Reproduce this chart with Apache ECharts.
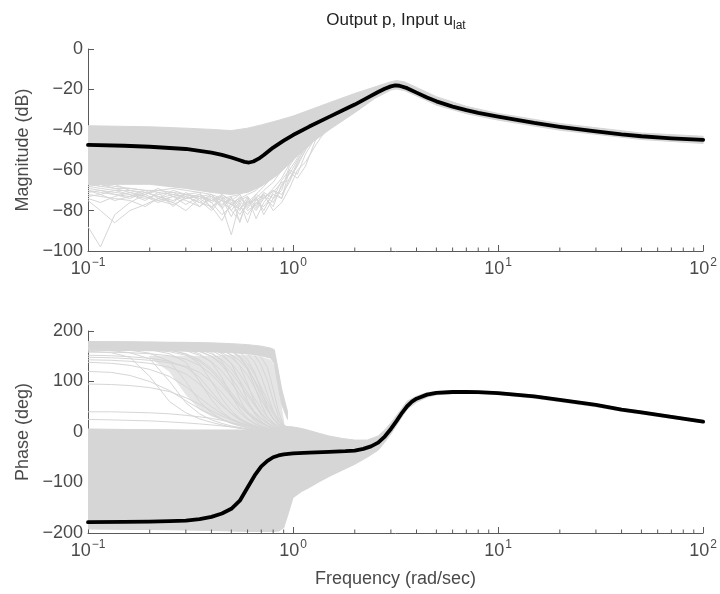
<!DOCTYPE html>
<html>
<head>
<meta charset="utf-8">
<script src="https://cdn.jsdelivr.net/npm/echarts@6/dist/echarts.min.js"></script>
<style>
  html, body { margin: 0; padding: 0; background: #ffffff; }
  #chart { width: 720px; height: 594px; }
</style>
</head>
<body>
<div id="chart"></div>
<script>
// ---------------- Data ----------------
// Nominal magnitude response (dB) of p / u_lat
const magFreq = [0.1, 0.15, 0.2, 0.3, 0.4, 0.45, 0.5, 0.55, 0.58, 0.61, 0.64, 0.68, 0.72, 0.8, 0.9, 1.0, 1.2, 1.5, 1.8, 2.0, 2.3, 2.6, 2.8, 3.0, 3.15, 3.3, 3.6, 4, 4.5, 5, 6, 7, 8, 10, 15, 20, 30, 40, 50, 70, 100];
const magNominal = [-47.5, -47.9, -48.4, -49.5, -51.3, -52.4, -53.7, -55.1, -55.9, -56.2, -55.7, -54.3, -52.5, -48.8, -45.4, -42.6, -38.4, -33.6, -29.7, -27.5, -24.2, -21.3, -19.7, -18.5, -18, -18.2, -19.4, -21.6, -24, -25.9, -28.5, -30.3, -31.6, -33.5, -36.6, -38.5, -40.8, -42.3, -43.2, -44.2, -45];

// Spread of the perturbed-model magnitudes (dense part)
const magBandFreq = [0.1, 0.2, 0.3, 0.4, 0.5, 0.6, 0.7, 0.85, 1.0, 1.25, 1.5, 2.0, 2.5, 3.0, 3.2, 3.5, 4, 5, 7, 10, 20, 50, 100];
const magBandLo = [-67, -67, -69, -71, -72, -71, -68, -62, -55, -46, -40, -31.5, -24.5, -20.3, -19.8, -20.6, -23.2, -27.8, -32, -35.2, -40.2, -44.8, -46.8];
const magBandHi = [-38, -38.5, -39.2, -39.8, -40.4, -39.2, -37.6, -35.3, -33.2, -29.6, -26.6, -22, -18.8, -16.2, -15.6, -16.3, -19, -23.6, -28.4, -31.9, -36.9, -41.6, -43.2];

// Individual ragged perturbed magnitudes below the dense part
const magSpikeFreq = [0.1, 0.115, 0.135, 0.16, 0.19, 0.22, 0.26, 0.3, 0.35, 0.4, 0.45, 0.5, 0.55, 0.6, 0.66, 0.72, 0.8, 0.88, 0.96, 1.05, 1.15, 1.3, 1.5, 1.8, 2.2];
const magSpikes = [
  [-88, -98, -82, -76, -72, -70, -69, -70, -71, -72, -74, -73, -72, -70, -68, -64, -60, -55, -50, -46, -42, -38, -34, -29, -24],
  [-75, -80, -86, -80, -77, -74, -72, -73, -76, -78, -75, -80, -74, -72, -70, -66, -62, -57, -52, -47, -43, -39, -34, -29, -24],
  [-72, -73, -74, -75, -78, -74, -76, -80, -74, -78, -85, -76, -82, -76, -72, -68, -63, -58, -53, -48, -44, -39, -35, -29, -24],
  [-70, -71, -72, -73, -72, -75, -73, -72, -78, -74, -78, -92, -76, -86, -74, -70, -66, -60, -54, -49, -44, -40, -35, -30, -25],
  [-69, -70, -71, -72, -74, -72, -71, -74, -72, -76, -73, -80, -85, -75, -80, -74, -69, -64, -57, -51, -46, -40, -35, -30, -25],
  [-68, -69, -70, -70, -71, -73, -75, -72, -73, -72, -77, -74, -78, -82, -76, -78, -72, -74, -60, -54, -47, -41, -36, -30, -25],
  [-67, -68, -69, -69, -70, -71, -72, -74, -73, -75, -72, -76, -74, -77, -74, -80, -71, -66, -65, -56, -48, -42, -36, -31, -25],
  [-66, -67, -68, -69, -70, -70, -71, -72, -74, -73, -75, -77, -75, -73, -78, -72, -76, -68, -61, -64, -58, -44, -37, -31, -25],
  [-70, -72, -75, -73, -70, -74, -70, -72, -71, -79, -72, -75, -72, -78, -72, -74, -70, -74, -64, -58, -50, -43, -37, -31, -25],
  [-73, -72, -70, -72, -75, -71, -78, -73, -76, -72, -78, -73, -86, -74, -79, -73, -78, -67, -62, -55, -49, -42, -36, -31, -25],
  [-71, -70, -72, -74, -71, -73, -76, -71, -75, -80, -74, -83, -75, -80, -77, -71, -74, -70, -58, -52, -46, -40, -35, -30, -24],
  [-66, -68, -67, -70, -72, -69, -73, -75, -78, -73, -79, -74, -80, -73, -84, -76, -70, -72, -66, -57, -50, -41, -36, -30, -25],
  [-74, -76, -73, -71, -73, -76, -73, -77, -73, -76, -82, -78, -73, -79, -73, -82, -74, -65, -60, -62, -52, -43, -37, -31, -25],
  [-68, -67, -69, -71, -73, -75, -77, -74, -72, -75, -73, -77, -79, -76, -75, -72, -80, -76, -69, -60, -56, -47, -38, -31, -25]
];

// Nominal phase response (deg)
const phaseFreq = [0.1, 0.15, 0.2, 0.25, 0.3, 0.35, 0.4, 0.45, 0.5, 0.55, 0.6, 0.65, 0.7, 0.75, 0.8, 0.85, 0.9, 1.0, 1.2, 1.5, 1.8, 2.0, 2.2, 2.4, 2.6, 2.8, 3.0, 3.2, 3.4, 3.6, 3.8, 4, 4.5, 5, 6, 7, 8, 10, 15, 20, 30, 40, 50, 70, 100];
const phaseNominal = [-178.5, -178, -177.5, -176.5, -175.5, -172.5, -168, -161.5, -152, -136, -110, -86, -68, -57, -50, -46.5, -44.5, -42.5, -40.8, -39.3, -38, -36.8, -33.5, -28.5, -21, -9, 6, 22, 38, 51, 60, 66, 74, 77.5, 79.2, 79.4, 78.8, 77, 70.5, 63.5, 53.5, 44.5, 39, 30, 20.5];

// Dense lower spread of perturbed phases
const phaseBandFreq = [0.1, 0.15, 0.2, 0.3, 0.4, 0.5, 0.6, 0.7, 0.8, 0.85, 0.9, 0.95, 1.0, 1.1, 1.2, 1.35, 1.5, 1.75, 2.0, 2.3, 2.6, 2.8, 3.0, 3.3, 3.6, 4, 4.5, 5, 6, 7, 8, 10, 15, 20, 30, 40, 50, 70, 100];
const phaseBandLo = [-192, -193, -193, -194, -195, -196, -197, -197, -197, -196, -190, -160, -130, -118, -110, -98, -88, -75, -64, -50, -36, -20, -4, 22, 45, 59, 69, 73.5, 76, 76.5, 75.8, 74, 67, 60, 50, 41, 35.5, 27, 18];
const phaseBandHi = [6, 5, 5, 4, 4, 4, 4, 5, 6, 8, 10, 11, 10, 7, 3, -3, -8, -13, -16, -16, -8, 4, 18, 40, 61, 71, 78, 80.5, 81.5, 81.5, 81, 79.5, 73, 66, 56, 47, 41.5, 32.5, 23];

// Dense upper spread of perturbed phases (wrapped near +180)
const phaseTopFreq = [0.1, 0.2, 0.3, 0.4, 0.5, 0.6, 0.7, 0.78, 0.81, 0.84, 0.88, 0.94];
const phaseTopLo = [162, 161, 160, 159, 157, 155, 151, 146, 135, 98, 55, 25];
const phaseTopHi = [178.5, 178, 177.5, 176.5, 175, 173, 170, 166, 163, 130, 85, 40];

// Crowded zone where most upper-branch phases fall toward zero
const phaseMidFreq = [0.2, 0.25, 0.3, 0.35, 0.4, 0.5, 0.6, 0.7, 0.78, 0.82, 0.86, 0.9];
const phaseMidLo = [148, 120, 75, 45, 32, 18, 10, 5, 3, 2, 1, 0];
const phaseMidHi = [150, 150, 150, 150, 150, 152, 152, 148, 142, 125, 70, 20];

// Individual perturbed phases falling from the upper branch
const phaseLineFreq = [0.1, 0.13, 0.16, 0.2, 0.25, 0.3, 0.35, 0.4, 0.45, 0.5, 0.55, 0.6, 0.65, 0.7, 0.75, 0.8, 0.85, 0.9, 1.0, 1.1, 1.25];
const phaseLines = [
  [174, 174, 174, 173, 172, 170, 166, 158, 140, 105, 65, 38, 22, 13, 8, 4, 2, 0, -3, -7, -11],
  [176, 176, 175, 175, 174, 173, 170, 165, 155, 135, 100, 62, 36, 21, 12, 7, 3, 1, -3, -7, -11],
  [177, 177, 176, 176, 175, 174, 172, 169, 163, 152, 130, 95, 58, 33, 19, 11, 6, 2, -2, -6, -10],
  [177, 177, 177, 176, 176, 175, 174, 172, 168, 161, 148, 125, 90, 55, 30, 17, 9, 4, -1, -6, -10],
  [178, 178, 177, 177, 176, 176, 175, 173, 170, 166, 158, 143, 118, 82, 48, 26, 14, 6, 0, -5, -10],
  [178, 178, 178, 177, 177, 176, 175, 174, 172, 169, 164, 155, 138, 110, 75, 42, 22, 10, 1, -5, -10],
  [178, 178, 178, 178, 177, 177, 176, 175, 174, 172, 169, 163, 152, 132, 102, 62, 30, 13, 2, -4, -10],
  [172, 172, 171, 170, 168, 164, 155, 138, 108, 72, 44, 27, 17, 11, 7, 4, 2, 0, -3, -7, -11],
  [170, 170, 169, 167, 163, 154, 135, 100, 66, 42, 27, 18, 12, 8, 5, 3, 1, -1, -4, -8, -12],
  [168, 167, 166, 163, 155, 138, 100, 64, 40, 26, 18, 12, 8, 5, 3, 1, 0, -2, -5, -8, -12],
  [165, 164, 162, 156, 140, 100, 60, 38, 25, 17, 12, 8, 5, 3, 2, 1, -1, -3, -6, -9, -12],
  [163, 161, 157, 145, 100, 58, 36, 24, 17, 12, 9, 6, 4, 3, 2, 0, -2, -4, -6, -9, -12],
  [160, 157, 148, 110, 60, 38, 26, 19, 14, 10, 7, 5, 4, 2, 1, 0, -2, -4, -6, -9, -12],
  [95, 94, 92, 88, 80, 68, 55, 42, 32, 24, 18, 13, 9, 6, 4, 2, 0, -2, -5, -8, -12],
  [40, 40, 39, 38, 36, 33, 30, 27, 23, 19, 15, 12, 9, 6, 4, 2, 0, -2, -5, -8, -12],
  [25, 24, 23, 22, 20, 18, 16, 14, 12, 10, 8, 6, 5, 3, 2, 1, 0, -2, -5, -8, -11],
  [152, 151, 149, 146, 140, 128, 108, 80, 55, 36, 24, 16, 11, 7, 4, 2, 0, -2, -5, -8, -12],
  [143, 142, 140, 136, 128, 115, 95, 72, 52, 37, 26, 18, 12, 8, 5, 3, 1, -1, -4, -8, -12],
  [148, 147, 145, 142, 137, 130, 118, 100, 78, 56, 38, 25, 16, 10, 6, 3, 1, -1, -4, -8, -12],
  [175, 175, 174, 173, 171, 168, 163, 155, 143, 125, 102, 78, 56, 38, 25, 15, 9, 4, -1, -6, -11],
  [173, 173, 172, 171, 169, 165, 159, 150, 136, 117, 95, 72, 52, 36, 24, 15, 9, 4, -1, -6, -11],
  [176, 176, 176, 175, 174, 172, 169, 164, 157, 147, 132, 112, 88, 63, 42, 26, 15, 7, 0, -5, -10],
  [171, 171, 170, 169, 166, 161, 152, 139, 120, 97, 74, 54, 38, 26, 17, 10, 5, 2, -2, -7, -11],
  [177, 177, 177, 176, 175, 174, 172, 170, 166, 160, 150, 135, 114, 88, 62, 40, 24, 12, 1, -5, -10],
  [169, 169, 168, 166, 162, 155, 143, 125, 102, 78, 57, 41, 29, 20, 13, 8, 4, 1, -3, -7, -11],
  [178, 178, 177, 177, 176, 175, 174, 171, 167, 160, 148, 128, 100, 70, 45, 28, 16, 8, 0, -5, -10],
  [174, 174, 173, 172, 170, 167, 161, 150, 132, 108, 82, 58, 40, 27, 18, 11, 6, 2, -2, -6, -11],
  [176, 176, 175, 174, 173, 171, 167, 161, 151, 136, 115, 90, 66, 46, 30, 19, 11, 5, -1, -6, -11],
  [158, 158, 157, 155, 151, 144, 132, 114, 92, 70, 51, 36, 25, 17, 11, 6, 3, 0, -3, -7, -11],
  [166, 166, 165, 163, 159, 152, 140, 121, 97, 73, 53, 38, 27, 18, 12, 7, 3, 1, -3, -7, -11],
  [177, 177, 176, 176, 175, 173, 171, 167, 161, 153, 141, 124, 102, 78, 55, 35, 20, 9, 0, -5, -10],
  [178, 178, 178, 177, 177, 176, 175, 174, 173, 171, 168, 164, 158, 148, 128, 85, 40, 15, 1, -5, -10],
  [120, 118, 112, 100, 82, 62, 46, 34, 25, 18, 13, 9, 6, 4, 2, 0, -2, -4, -6, -9, -12],
  [138, 136, 132, 124, 110, 90, 68, 50, 36, 26, 19, 14, 10, 6, 4, 2, 0, -2, -5, -8, -12]
];

// Axis settings
const xTickDecades = [0.1, 1, 10];
const xMinorSteps = [2, 3, 4, 5, 6, 7, 8, 9];
const magTicks = { min: -100, max: 0, interval: 20 };
const phaseTicks = { min: -200, max: 200, interval: 100 };

// ---------------- Chart ----------------
const GRAY = '#d6d6d6';
const HAZE = '#e5e5e5';
const AXIS = '#5a5a5a';
const TEXT = '#4a4a4a';
const FONT = '"Liberation Sans", Arial, Helvetica, sans-serif';
const gridLeft = 88, gridWidth = 616, gridHeight = 202;

const pairs = (xs, ys) => xs.map((x, i) => [x, ys[i]]);
const minorVals = [];
xTickDecades.forEach(d => xMinorSteps.forEach(s => minorVals.push(+(d * s).toPrecision(3))));

function bandSeries(gi, xs, lo, hi, color) {
  const data = xs.map((x, i) => [x, lo[i], hi[i]]);
  const c = color || GRAY;
  return {
    type: 'custom', xAxisIndex: gi, yAxisIndex: gi, silent: true, clip: true, z: 1,
    data: data, encode: { x: 0, y: [1, 2] },
    renderItem: function (params, api) {
      if (params.dataIndex !== 0) return null;
      const top = data.map(d => api.coord([d[0], d[2]]));
      const bot = data.map(d => api.coord([d[0], d[1]])).reverse();
      return { type: 'polygon', shape: { points: top.concat(bot) },
               style: { fill: c, stroke: c, lineWidth: 1 } };
    }
  };
}

function grayLine(gi, xs, ys) {
  return {
    type: 'line', xAxisIndex: gi, yAxisIndex: gi, data: pairs(xs, ys), silent: true, z: 2,
    symbol: 'none', lineStyle: { color: GRAY, width: 1 }
  };
}

function nominalLine(gi, xs, ys) {
  return {
    type: 'line', xAxisIndex: gi, yAxisIndex: gi, data: pairs(xs, ys), silent: true, z: 5,
    symbol: 'none', smooth: false, lineStyle: { color: '#000000', width: 3.8, join: 'round', cap: 'round' }
  };
}

function minorTickSeries(gi, yMin) {
  return {
    type: 'custom', xAxisIndex: gi, yAxisIndex: gi, silent: true, clip: false, z: 6,
    data: minorVals.map(v => [v, yMin]),
    renderItem: function (params, api) {
      const p = api.coord([api.value(0), api.value(1)]);
      return { type: 'line', shape: { x1: p[0], y1: p[1], x2: p[0], y2: p[1] - 3.5 },
               style: { stroke: AXIS, lineWidth: 1 } };
    }
  };
}

const minusFmt = v => (v < 0 ? '\u2212' + Math.abs(v) : String(v));
const powFmt = v => {
  const e = Math.round(Math.log10(v));
  return '{b|10}{e|' + (e < 0 ? '\u2212' + (-e) : e) + '}';
};

function xAxisCfg(gi, name) {
  return {
    type: 'log', logBase: 10, gridIndex: gi, min: 0.1, max: 100,
    name: name || '', nameLocation: 'middle', nameGap: 37,
    nameTextStyle: { color: TEXT, fontSize: 18, fontFamily: FONT },
    axisLine: { show: true, onZero: false, lineStyle: { color: AXIS, width: 1 } },
    axisTick: { show: true, inside: true, length: 6, lineStyle: { color: AXIS } },
    splitLine: { show: false }, minorTick: { show: false },
    axisLabel: {
      formatter: powFmt, margin: 6, color: TEXT,
      rich: {
        b: { fontSize: 18, fontFamily: FONT, color: TEXT },
        e: { fontSize: 12, fontFamily: FONT, color: TEXT, padding: [0, 0, 13, 1] }
      }
    }
  };
}

function yAxisCfg(gi, name, t) {
  return {
    type: 'value', gridIndex: gi, min: t.min, max: t.max, interval: t.interval,
    name: name, nameLocation: 'middle', nameGap: 53,
    nameTextStyle: { color: TEXT, fontSize: 18, fontFamily: FONT },
    axisLine: { show: true, onZero: false, lineStyle: { color: AXIS, width: 1 } },
    axisTick: { show: true, inside: true, length: 6, lineStyle: { color: AXIS } },
    splitLine: { show: false },
    axisLabel: { formatter: minusFmt, margin: 5, color: TEXT, fontSize: 18, fontFamily: FONT }
  };
}

const series = [];
// magnitude panel
series.push(bandSeries(0, magBandFreq, magBandLo, magBandHi));
magSpikes.forEach(s => series.push(grayLine(0, magSpikeFreq, s)));
series.push(nominalLine(0, magFreq, magNominal));
series.push(minorTickSeries(0, magTicks.min));
// phase panel
series.push(bandSeries(1, phaseMidFreq, phaseMidLo, phaseMidHi, HAZE));
series.push(bandSeries(1, phaseBandFreq, phaseBandLo, phaseBandHi));
series.push(bandSeries(1, phaseTopFreq, phaseTopLo, phaseTopHi));
phaseLines.forEach(s => series.push(grayLine(1, phaseLineFreq, s)));
series.push(nominalLine(1, phaseFreq, phaseNominal));
series.push(minorTickSeries(1, phaseTicks.min));

const chart = echarts.init(document.getElementById('chart'), null, { renderer: 'canvas' });
chart.setOption({
  animation: false,
  backgroundColor: '#ffffff',
  textStyle: { fontFamily: FONT },
  grid: [
    { left: gridLeft, top: 49, width: gridWidth, height: gridHeight },
    { left: gridLeft, top: 331, width: gridWidth, height: gridHeight }
  ],
  xAxis: [xAxisCfg(0), xAxisCfg(1, 'Frequency (rad/sec)')],
  yAxis: [yAxisCfg(0, 'Magnitude (dB)', magTicks), yAxisCfg(1, 'Phase (deg)', phaseTicks)],
  graphic: [{
    type: 'text', x: gridLeft + gridWidth / 2, y: 20, silent: true,
    style: {
      text: '{a|Output p, Input u}{s|lat}', align: 'center', verticalAlign: 'middle',
      rich: {
        a: { fontSize: 17, fontFamily: FONT, fill: '#222222' },
        s: { fontSize: 12, fontFamily: FONT, fill: '#222222', padding: [11, 0, 0, 0] }
      }
    }
  }],
  series: series
});
</script>
</body>
</html>
